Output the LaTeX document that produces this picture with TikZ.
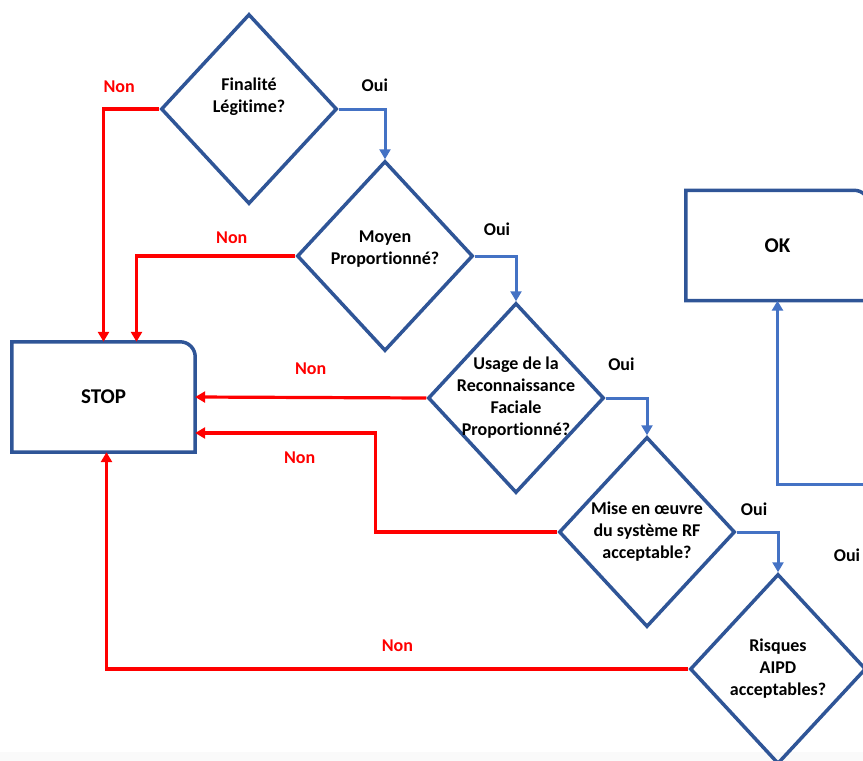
\documentclass[tikz,border=0pt]{standalone}
\usepackage{fontspec}
\setmainfont{Carlito}[Ligatures={NoCommon}]
\usepackage{tikz}
\usetikzlibrary{shapes.geometric,arrows.meta,calc}
\definecolor{framecolor}{HTML}{2F5597}
\definecolor{ouicolor}{HTML}{4472C4}
\definecolor{noncolor}{HTML}{FF0000}
\definecolor{stripcolor}{HTML}{FAFAFA}

\begin{document}
\begin{tikzpicture}[x=1pt,y=1pt,font=\bfseries\fontsize{18}{22}\selectfont]

\tikzstyle{decision}=[diamond,draw=framecolor,line width=3.5pt,minimum width=176pt,minimum height=190pt,inner sep=0pt,aspect=0.93]
\tikzstyle{qtext}=[align=center,text=black]
\tikzstyle{terminal}=[rectangle,minimum width=183pt,minimum height=110pt,inner sep=0pt,font=\bfseries\fontsize{21}{25}\selectfont]
\tikzstyle{boxline}=[draw=framecolor,line width=3.5pt]
\tikzstyle{non}=[draw=noncolor,line width=3.2pt,-{Triangle[length=10pt,width=11pt]}]
\tikzstyle{oui}=[draw=ouicolor,line width=3pt,-{Triangle[length=10pt,width=11pt]}]
\tikzstyle{nonlab}=[text=noncolor,inner sep=0pt]
\tikzstyle{ouilab}=[text=black,inner sep=0pt]

\clip (0,0) rectangle (863,-761);
\fill[stripcolor] (0,-752) rectangle (863,-761);

% the questions
\node[decision,label={[qtext,yshift=12pt]center:Finalité\\Légitime?}] (fin) at (249,-109) {};
\node[decision,label={[qtext,yshift=7pt]center:Moyen\\Proportionné?}] (moy) at (385,-256) {};
\node[decision,label={[qtext]center:Usage de la\\Reconnaissance\\Faciale\\Proportionné?}] (usa) at (516,-398) {};
\node[decision,label={[qtext]center:Mise en œuvre\\du système RF\\acceptable?}] (mise) at (647,-532) {};
\node[decision,label={[qtext]center:Risques\\AIPD\\acceptables?}] (risk) at (778,-669) {};

% the two ends
\node[terminal] (STOP) at (103.5,-397) {STOP};
\node[terminal] (OK) at (777.5,-245.5) {OK};
\foreach \n in {STOP,OK}
  \draw[boxline] (\n.south west) -- (\n.north west) -- ([xshift=-15pt]\n.north east)
    arc[start angle=90,end angle=0,radius=15pt] -- (\n.south east) -- cycle;

% Oui
\draw[oui] (fin.east) -| (moy.north) node[ouilab,pos=0.39,above=16pt] {Oui};
\draw[oui] (moy.east) -| (usa.north) node[ouilab,pos=0.27,above=19pt] {Oui};
\draw[oui] (usa.east) -| (mise.north) node[ouilab,pos=0.19,above=26pt] {Oui};
\draw[oui] (mise.east) -| (risk.north) node[ouilab,pos=0.21,above=15pt] {Oui};
\coordinate (ouiR) at (895,-484);
\draw[oui] (risk.east) -| (ouiR) -| (OK.south);
\node[ouilab] (oui5) at (847,-555) {Oui};

% Non
\draw[non] (fin.west) -| (STOP.north) node[nonlab,pos=0.36,above=15pt] {Non};
\draw[non] (moy.west) -| ([xshift=33pt]STOP.north) node[nonlab,pos=0.2,above=11pt] {Non};
\draw[non] (usa.west) -- (STOP.east) node[nonlab,midway,above=21pt] {Non};
\draw[non] (mise.west) -- ++(-182,0) |- ([yshift=-36pt]STOP.east) node[nonlab,pos=0.71,below=17pt] {Non};
\draw[non] (risk.west) -| ([xshift=3pt]STOP.south) node[nonlab,pos=0.25,above=16pt] {Non};

\end{tikzpicture}
\end{document}
